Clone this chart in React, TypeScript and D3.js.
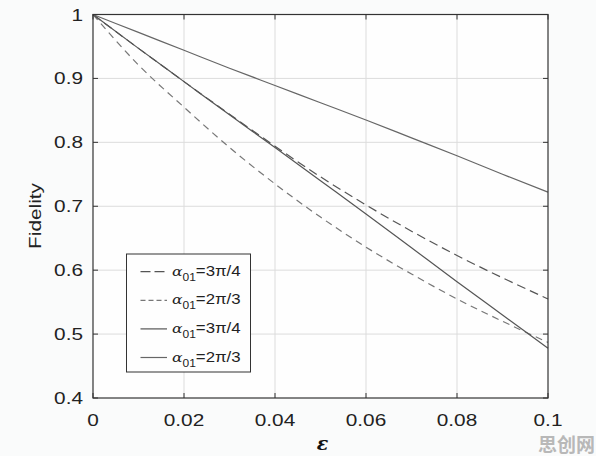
import React from "react";
import * as d3 from "d3";

const epsilon = [0, 0.01, 0.02, 0.03, 0.04, 0.05, 0.06, 0.07, 0.08, 0.09, 0.1];
const dashed34 = [1, 0.947, 0.895, 0.844, 0.794, 0.746, 0.702, 0.661, 0.623, 0.588, 0.555];
const dashed23 = [1, 0.921, 0.855, 0.792, 0.735, 0.683, 0.636, 0.594, 0.555, 0.52, 0.487];
const solid34 = [1, 0.947, 0.895, 0.843, 0.792, 0.74, 0.688, 0.635, 0.582, 0.53, 0.478];
const solid23 = [1, 0.972, 0.944, 0.916, 0.889, 0.862, 0.835, 0.807, 0.779, 0.75, 0.722];
const xTicks = [0, 0.02, 0.04, 0.06, 0.08, 0.1];
const xTickLabels = ["0", "0.02", "0.04", "0.06", "0.08", "0.1"];
const yTicks = [0.4, 0.5, 0.6, 0.7, 0.8, 0.9, 1];
const yTickLabels = ["0.4", "0.5", "0.6", "0.7", "0.8", "0.9", "1"];
const legendLabels = ["=3π/4", "=2π/3", "=3π/4", "=2π/3"];

const W = 596, H = 456;
const L = 93, R = 548, T = 14.5, B = 398;
const SX = 1.3;

export default function App() {
  const x = d3.scaleLinear().domain([0, 0.1]).range([L, R]);
  const y = d3.scaleLinear().domain([0.4, 1]).range([B, T]);
  const line = d3
    .line<number>()
    .x((_, i) => x(epsilon[i]))
    .y((d) => y(d))
    .curve(d3.curveMonotoneX);

  const series = [
    { data: dashed34, dash: "9,5", color: "#555" },
    { data: dashed23, dash: "7,5", color: "#777" },
    { data: solid34, dash: "", color: "#555" },
    { data: solid23, dash: "", color: "#666" },
  ];

  const font = "'Liberation Sans', Arial, Helvetica, sans-serif";
  const axisColor = "#333";

  return (
    <>
      <style>{`body{margin:0}`}</style>
      <svg width={W} height={H} style={{ display: "block", background: "#fafbfb" }}>
        <rect x={L} y={T} width={R - L} height={B - T} fill="#fefefe" />
        {xTicks.slice(1, -1).map((t) => (
          <line key={"gx" + t} x1={x(t)} x2={x(t)} y1={T} y2={B} stroke="#dcdcdc" strokeWidth={1} />
        ))}
        {yTicks.slice(1, -1).map((t) => (
          <line key={"gy" + t} x1={L} x2={R} y1={y(t)} y2={y(t)} stroke="#dcdcdc" strokeWidth={1} />
        ))}
        {series.map((s, i) => (
          <path
            key={"s" + i}
            d={line(s.data) || ""}
            fill="none"
            stroke={s.color}
            strokeWidth={1.2}
            strokeDasharray={s.dash || undefined}
          />
        ))}
        <rect x={L} y={T} width={R - L} height={B - T} fill="none" stroke={axisColor} strokeWidth={1.2} />
        {xTicks.map((t) => (
          <g key={"tx" + t}>
            <line x1={x(t)} x2={x(t)} y1={B} y2={B - 5} stroke={axisColor} />
            <line x1={x(t)} x2={x(t)} y1={T} y2={T + 5} stroke={axisColor} />
          </g>
        ))}
        {yTicks.map((t) => (
          <g key={"ty" + t}>
            <line x1={L} x2={L + 5} y1={y(t)} y2={y(t)} stroke={axisColor} />
            <line x1={R} x2={R - 5} y1={y(t)} y2={y(t)} stroke={axisColor} />
          </g>
        ))}
        {xTicks.map((t, i) => (
          <g key={"lx" + t} transform={`translate(${x(t)},${B + 28}) scale(${SX},1)`}>
            <text textAnchor="middle" fontFamily={font} fontSize={16} fill="#222">
              {xTickLabels[i]}
            </text>
          </g>
        ))}
        {yTicks.map((t, i) => (
          <g key={"ly" + t} transform={`translate(${L - 10},${y(t) + 6}) scale(${SX},1)`}>
            <text textAnchor="end" fontFamily={font} fontSize={16} fill="#222">
              {yTickLabels[i]}
            </text>
          </g>
        ))}
        <g transform={`translate(${(L + R) / 2 + 2},${450})`}>
          <text textAnchor="middle" fontFamily="'DejaVu Serif', serif" fontSize={19} fontWeight="bold" fontStyle="italic" fill="#111">
            ε
          </text>
        </g>
        <g transform={`translate(41,216) rotate(-90) scale(${SX},1)`}>
          <text textAnchor="middle" fontFamily={font} fontSize={16} fill="#222">
            Fidelity
          </text>
        </g>
        <rect x={126.5} y={254} width={124} height={118} fill="#fefefe" stroke={axisColor} strokeWidth={1} />
        {series.map((s, i) => {
          const ly = 271.7 + i * 28.6;
          return (
            <g key={"lg" + i}>
              <line
                x1={140.5}
                x2={167}
                y1={ly}
                y2={ly}
                stroke={s.color}
                strokeWidth={1.2}
                strokeDasharray={s.dash ? (i === 0 ? "10,4" : "5,3") : undefined}
              />
              <g transform={`translate(172,${ly + 4}) scale(1.2,1)`}>
                <text fontFamily={font} fontSize={14} fill="#222">
                  <tspan fontStyle="italic" fontFamily="'DejaVu Serif', serif" fontSize={13}>α</tspan>
                  <tspan fontSize={10} dy={5}>01</tspan>
                  <tspan dy={-5}>{legendLabels[i]}</tspan>
                </text>
              </g>
            </g>
          );
        })}
        <text x={595} y={452} textAnchor="end" fontFamily="'Noto Sans CJK SC', sans-serif" fontWeight="bold" fontSize={19} fill="#b8b8b8">
          思创网
        </text>
      </svg>
    </>
  );
}
